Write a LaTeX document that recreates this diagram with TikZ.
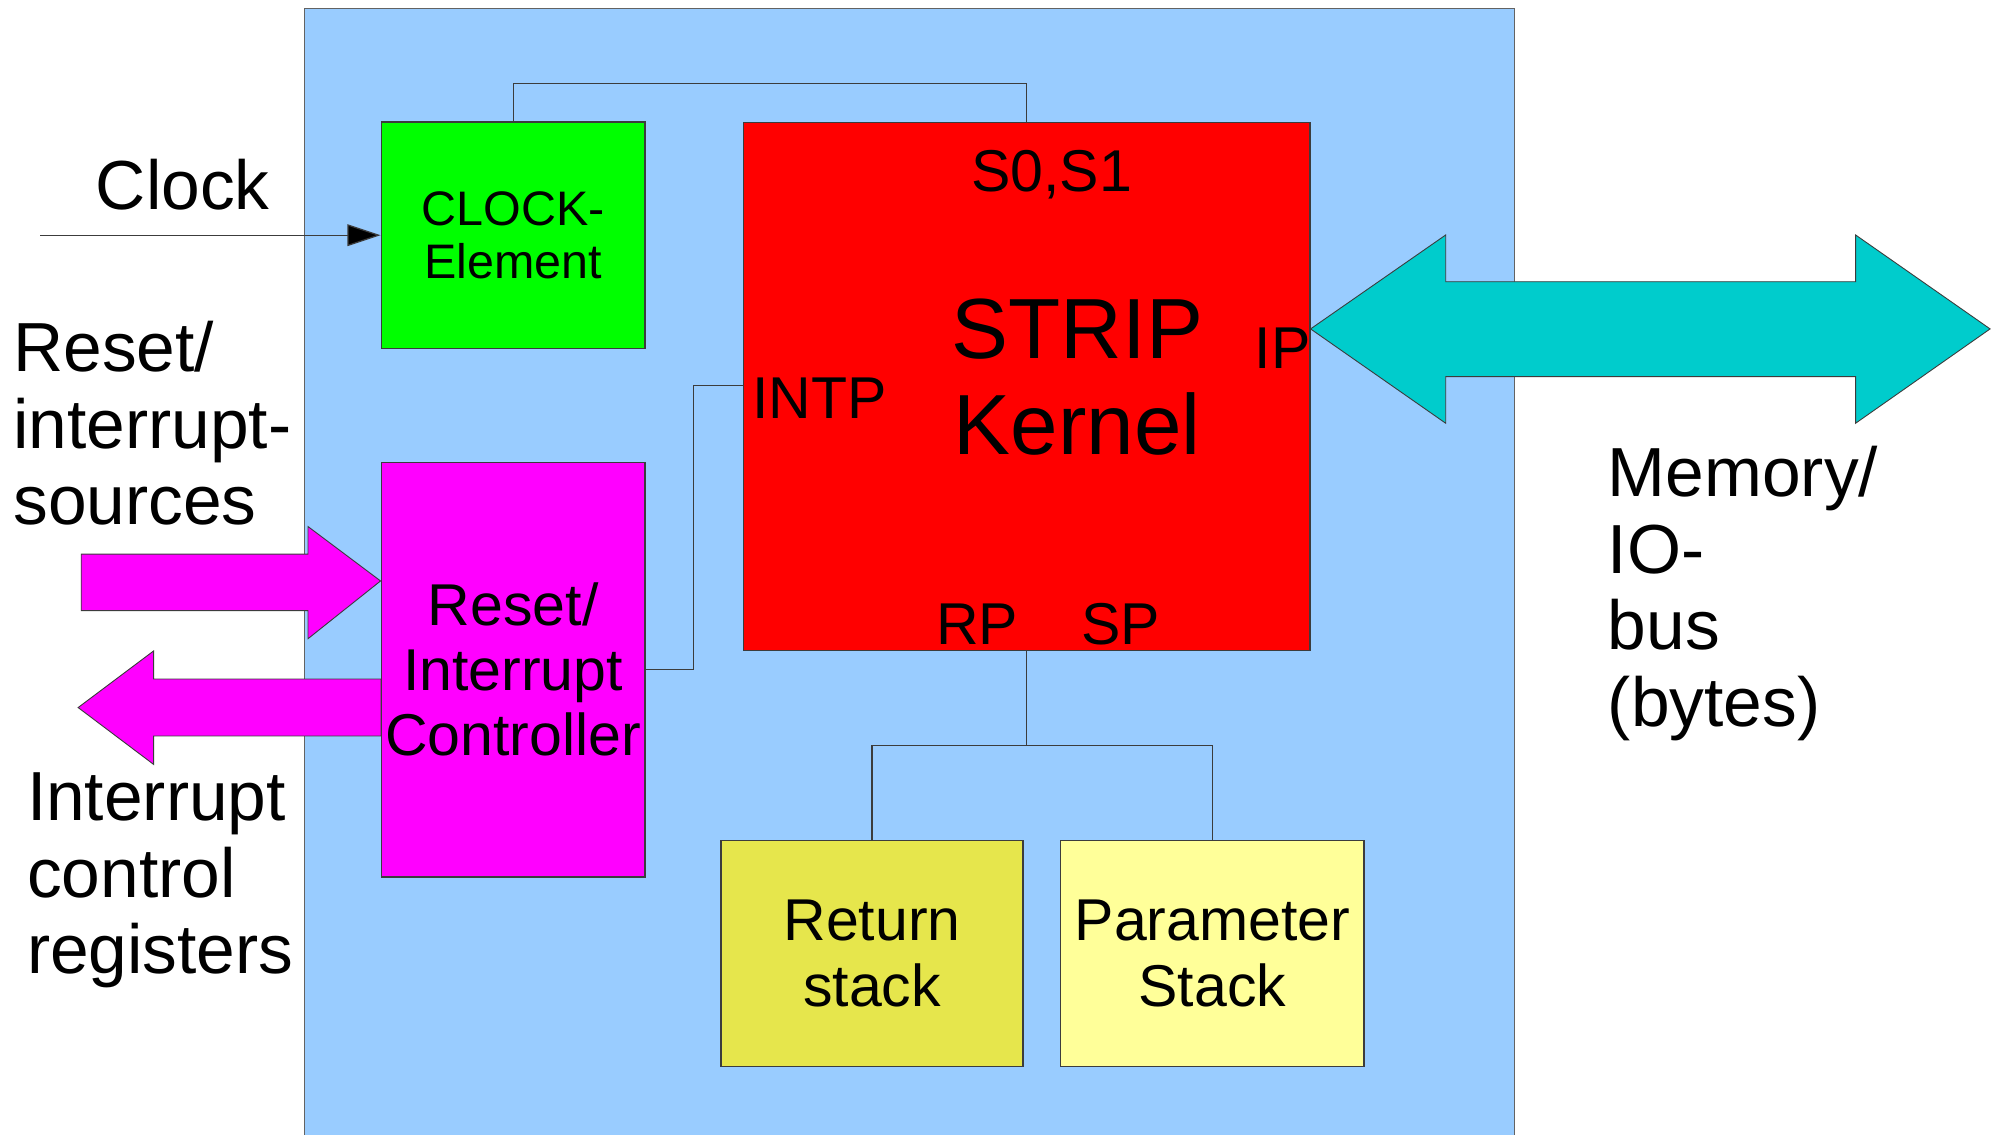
\documentclass[tikz,border=0pt]{standalone}
\usepackage{fontspec}
\setmainfont{Liberation Sans}
\usetikzlibrary{arrows.meta}
\definecolor{bgblue}{HTML}{99CCFF}
\definecolor{clkgreen}{HTML}{00FF00}
\definecolor{kernred}{HTML}{FF0000}
\definecolor{ctrlmag}{HTML}{FF00FF}
\definecolor{retyel}{HTML}{E6E64C}
\definecolor{paryel}{HTML}{FFFF99}
\definecolor{buscyan}{HTML}{00CCCC}
\definecolor{edge}{HTML}{3C3C3C}
\begin{document}
\begin{tikzpicture}[x=1pt,y=-1pt,
  box/.style={draw=edge, line width=1pt, inner sep=0pt, align=center},
  wire/.style={draw=edge, line width=1pt},
  fat/.style={draw=edge, line width=0.7pt, line join=miter},
  lbl/.style={inner sep=0pt, text=black},
  bigtxt/.style={font=\fontsize{54.5}{60}\selectfont},
  midtxt/.style={font=\fontsize{46.3}{52}\selectfont}]
\clip (0,0) rectangle (1568,890);
\fill[white] (0,0) rectangle (1568,890);
% chip background
\draw[fill=bgblue, draw=edge!80, line width=1pt] (239,6.5) rectangle (1188,900);

% fat magenta arrows
\filldraw[fat, fill=ctrlmag] (63.7,434.6) -- (241.6,434.6) -- (241.6,413) -- (298.5,455.7)
  -- (241.6,501) -- (241.6,479) -- (63.7,479) -- cycle;
\filldraw[fat, fill=ctrlmag] (61.3,555) -- (120.5,510.6) -- (120.5,532.6) -- (299,532.6)
  -- (299,577.3) -- (120.5,577.3) -- (120.5,599.6) -- cycle;
% cyan bus arrow
\filldraw[fat, fill=buscyan] (1028,258) -- (1134,184.3) -- (1134,221) -- (1455.5,221)
  -- (1455.5,184.3) -- (1561,258) -- (1455.5,332) -- (1455.5,295.4) -- (1134,295.4)
  -- (1134,332) -- cycle;

% boxes
\node[box, fill=clkgreen, minimum width=207, minimum height=177.5,
      font=\fontsize{38}{41.5}\selectfont] (clk) at (402.5,184.5) {CLOCK-\\Element};
\node[box, fill=kernred, minimum width=444.5, minimum height=414] (kern) at (805.2,303) {};
\node[box, fill=ctrlmag, minimum width=207, minimum height=325.5,
      font=\fontsize{46.3}{51}\selectfont] (ctrl) at (402.5,525.25) {Reset/\\Interrupt\\Controller};
\node[box, fill=retyel, minimum width=237, minimum height=177.5, midtxt] (rstack)
      at (684,747.75) {Return\\stack};
\node[box, fill=paryel, minimum width=238, minimum height=177.5, midtxt] (pstack)
      at (951,747.75) {Parameter\\Stack};

% labels in the kernel
\node[lbl, midtxt, anchor=base] (s01) at (825,150) {S0,S1};
\node[lbl, align=center, font=\fontsize{67}{75.5}\selectfont] (strip) at (845,295.6) {STRIP\\Kernel};
\node[lbl, midtxt, anchor=base] (ip) at (1006,289) {IP};
\node[lbl, midtxt, anchor=base west] (intp) at (590,328) {INTP};
\node[lbl, midtxt, anchor=base] (rp) at (766.5,505.5) {RP};
\node[lbl, midtxt, anchor=base] (sp) at (879,505.5) {SP};

% outside labels
\node[lbl, bigtxt, anchor=base west] (clocklbl) at (75,164.2) {Clock};
\node[lbl, bigtxt, align=left, anchor=north west] (srclbl) at (10.3,251.8) {Reset/\\interrupt-\\sources};
\node[lbl, bigtxt, align=left, anchor=north west] (reglbl) at (21,606) {Interrupt\\control\\registers};
\node[lbl, bigtxt, align=left, anchor=north west] (buslbl) at (1261,350) {Memory/\\IO-\\bus\\(bytes)};

% connectors
\coordinate (clkin) at (31.6,184.5);
\draw[wire, -{Triangle[length=26pt,width=17pt,fill=black]}] (clkin) -- (clk.west);
\coordinate (topbus) at (600,65.5);
\draw[wire] (clk.north) -- (clk.north |- topbus) -| (kern.north);
\coordinate (intpjoin) at (544,302.5);
\draw[wire] (ctrl.east) -| (intpjoin) -- (kern.west |- intpjoin);
\coordinate (split) at (805.2,584.5);
\draw[wire] (kern.south) -- (split);
\draw[wire] (rstack.north) |- (split) -| (pstack.north);
\end{tikzpicture}
\end{document}
